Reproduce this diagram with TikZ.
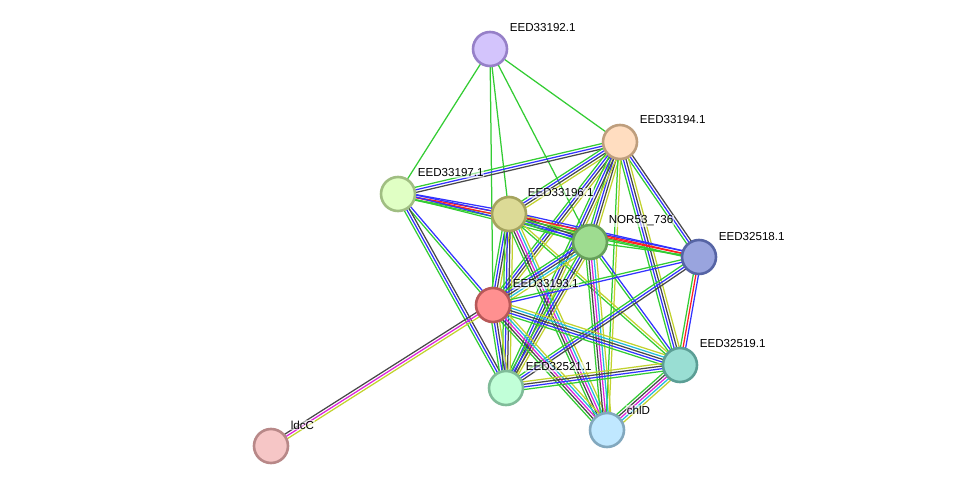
\documentclass[tikz,border=0pt]{standalone}
\usepackage{fontspec}
\setmainfont{Liberation Sans}
\usetikzlibrary{calc}
\pgfdeclarelayer{bg}
\pgfsetlayers{bg,main}
\definecolor{eg}{HTML}{33CC33}
\definecolor{eb}{HTML}{3333FF}
\definecolor{ek}{HTML}{484848}
\definecolor{er}{HTML}{FF2020}
\definecolor{em}{HTML}{DD22DD}
\definecolor{ec}{HTML}{22BBDD}
\definecolor{ey}{HTML}{C2D22E}
\tikzset{
  prot/.style={circle, minimum size=34pt, inner sep=0pt, line width=2.6pt},
  lbl/.style={anchor=west, font=\fontsize{11.6}{13}\selectfont, inner sep=0.6pt, fill=white, fill opacity=0.55, text opacity=1},
  edgeline/.style={line width=1.25pt}
}
\newcommand{\sedge}[4]{%
  \foreach \cc [count=\ii] in {#4}{%
    \pgfmathsetmacro\dd{(\ii-(#3+1)/2)*2.6}%
    \draw[edgeline, draw=\cc] ($(#1.center)!\dd pt!90:(#2.center)$) -- ($(#2.center)!\dd pt!-90:(#1.center)$);
  }%
}
\begin{document}
\begin{tikzpicture}[x=1pt,y=-1pt]
\useasboundingbox (0,0) rectangle (976,492);
% nodes
\node[prot, fill={rgb,255:red,211;green,196;blue,252}, draw={rgb,255:red,150;green,128;blue,200}] (n92) at (490,49) {};
\node[prot, fill={rgb,255:red,255;green,221;blue,192}, draw={rgb,255:red,190;green,158;blue,125}] (n94) at (620,142) {};
\node[prot, fill={rgb,255:red,224;green,255;blue,196}, draw={rgb,255:red,160;green,190;blue,130}] (n97) at (398,194) {};
\node[prot, fill={rgb,255:red,220;green,218;blue,150}, draw={rgb,255:red,165;green,164;blue,94}] (n96) at (509,214) {};
\node[prot, fill={rgb,255:red,158;green,220;blue,144}, draw={rgb,255:red,102;green,160;blue,90}] (nor) at (590,242) {};
\node[prot, fill={rgb,255:red,153;green,164;blue,222}, draw={rgb,255:red,86;green,100;blue,165}] (n18) at (699,257) {};
\node[prot, fill={rgb,255:red,255;green,144;blue,144}, draw={rgb,255:red,184;green,88;blue,88}] (n93) at (493,305) {};
\node[prot, fill={rgb,255:red,153;green,222;blue,211}, draw={rgb,255:red,91;green,158;blue,149}] (n19) at (680,365) {};
\node[prot, fill={rgb,255:red,193;green,255;blue,216}, draw={rgb,255:red,128;green,188;blue,153}] (n21) at (506,388) {};
\node[prot, fill={rgb,255:red,192;green,232;blue,255}, draw={rgb,255:red,130;green,168;blue,190}] (chl) at (607,430) {};
\node[prot, fill={rgb,255:red,246;green,198;blue,198}, draw={rgb,255:red,184;green,136;blue,136}] (ldc) at (271,446) {};
% edges
\begin{pgfonlayer}{bg}
\sedge{n92}{n97}{1}{eg}
\sedge{n92}{n96}{1}{eg}
\sedge{n92}{n93}{1}{eg}
\sedge{n92}{nor}{1}{eg}
\sedge{n92}{n94}{1}{eg}
\sedge{n94}{n97}{3}{eg,eb,ek}
\sedge{n94}{n96}{4}{eg,eb,ek,ey}
\sedge{n94}{nor}{4}{eg,eb,ek,ey}
\sedge{n94}{n93}{4}{eg,eb,ek,ey}
\sedge{n94}{n21}{4}{eg,eb,ek,ey}
\sedge{n94}{n18}{3}{eg,eb,ek}
\sedge{n94}{n19}{4}{eg,eb,ek,ey}
\sedge{n94}{chl}{2}{eg,ey}
\sedge{n97}{n96}{3}{eg,er,eb}
\sedge{n97}{n18}{3}{eg,er,eb}
\sedge{n97}{nor}{2}{eg,eb}
\sedge{n97}{n93}{2}{eg,eb}
\sedge{n97}{n21}{3}{eg,eb,ek}
\sedge{n96}{nor}{4}{eg,eb,ek,ey}
\sedge{n96}{n18}{3}{eg,er,eb}
\sedge{n96}{n93}{4}{eg,eb,ek,ey}
\sedge{n96}{n21}{4}{eg,eb,ek,ey}
\sedge{n96}{chl}{5}{eg,ek,em,ec,ey}
\sedge{n96}{n19}{2}{eg,ey}
\sedge{nor}{n18}{1}{eg}
\sedge{nor}{n93}{5}{eg,eb,ek,ec,ey}
\sedge{nor}{n21}{4}{eg,eb,ek,ey}
\sedge{nor}{n19}{2}{eg,eb}
\sedge{nor}{chl}{5}{eg,ek,em,ec,ey}
\sedge{n18}{n93}{2}{eg,eb}
\sedge{n18}{n21}{3}{eg,eb,ek}
\sedge{n18}{n19}{3}{eg,er,eb}
\sedge{n93}{n21}{4}{eg,eb,ek,ey}
\sedge{n93}{n19}{5}{eg,eb,ek,ec,ey}
\sedge{n93}{chl}{5}{eg,ek,em,ec,ey}
\sedge{n93}{ldc}{3}{ek,em,ey}
\sedge{n21}{n19}{4}{eg,eb,ek,ey}
\sedge{n19}{chl}{5}{eg,ek,em,ec,ey}
\end{pgfonlayer}
% labels
\node[lbl] (l92) at (509,28) {EED33192.1};
\node[lbl] (l94) at (639,120) {EED33194.1};
\node[lbl] (l97) at (417,173) {EED33197.1};
\node[lbl] (l96) at (527,193) {EED33196.1};
\node[lbl] (lnor) at (608,221) {NOR53\_736};
\node[lbl] (l18) at (718,237) {EED32518.1};
\node[lbl] (l93) at (512,284) {EED33193.1};
\node[lbl] (l19) at (699,344) {EED32519.1};
\node[lbl] (l21) at (525,367) {EED32521.1};
\node[lbl] (lchl) at (626,410) {chlD};
\node[lbl] (lldc) at (290,425) {ldcC};
\end{tikzpicture}
\end{document}
